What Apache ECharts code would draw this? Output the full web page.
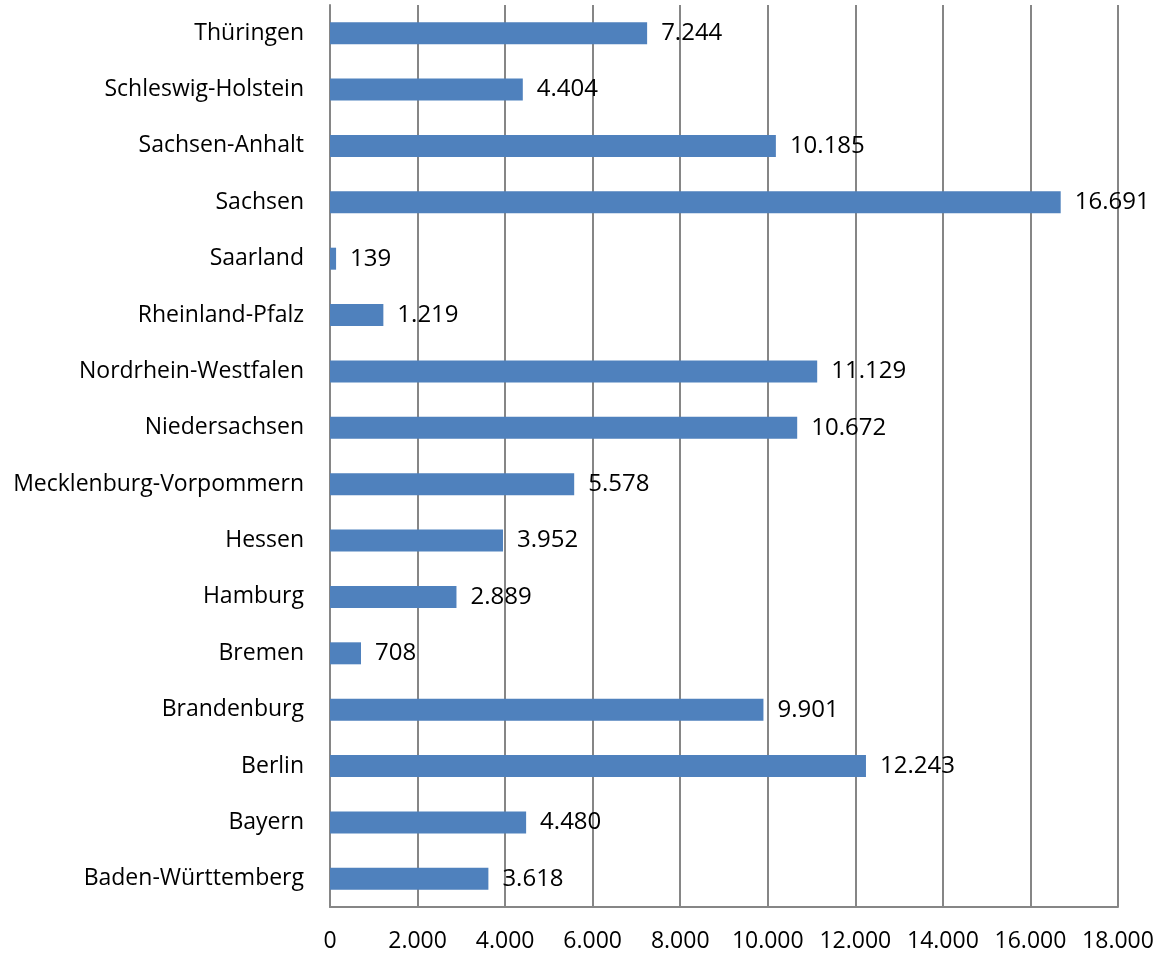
<!DOCTYPE html>
<html>
<head>
<meta charset="utf-8">
<script src="https://cdn.jsdelivr.net/npm/echarts@6/dist/echarts.min.js"></script>
<style>
  html, body { margin: 0; padding: 0; background: #fff; }
  #main { width: 1157px; height: 956px; }
</style>
</head>
<body>
<div id="main"></div>
<script>
var laender = ['Baden-Württemberg', 'Bayern', 'Berlin', 'Brandenburg', 'Bremen', 'Hamburg', 'Hessen',
    'Mecklenburg-Vorpommern', 'Niedersachsen', 'Nordrhein-Westfalen', 'Rheinland-Pfalz', 'Saarland',
    'Sachsen', 'Sachsen-Anhalt', 'Schleswig-Holstein', 'Thüringen'];
var werte = [3618, 4480, 12243, 9901, 708, 2889, 3952, 5578, 10672, 11129, 1219, 139, 16691, 10185, 4404, 7244];

function deNum(v) {
    return String(v).replace(/\B(?=(\d{3})+(?!\d))/g, '.');
}

var dom = document.getElementById('main');
var chart = echarts.init(dom);
var schrift = 'Open Sans';
var option = {
    animation: false,
    textStyle: {fontFamily: schrift, color: '#000'},
    grid: {
        left: 330,
        right: 39,
        top: 5,
        bottom: 49
    },
    xAxis: {
        type: 'value',
        min: 0,
        max: 18000,
        interval: 2000,
        axisLine: {show: true, lineStyle: {color: '#868686', width: 2}},
        axisTick: {show: false},
        splitLine: {show: true, lineStyle: {color: '#868686', width: 2}},
        axisLabel: {
            margin: 23,
            fontSize: 23,
            color: '#000',
            fontFamily: schrift,
            formatter: function (v) { return deNum(v); }
        }
    },
    yAxis: {
        type: 'category',
        data: laender,
        axisLine: {show: true, lineStyle: {color: '#868686', width: 2}},
        axisTick: {show: false},
        axisLabel: {
            margin: 26,
            fontSize: 23,
            color: '#000',
            fontFamily: schrift
        }
    },
    series: [{
        type: 'bar',
        data: werte,
        barWidth: 22,
        itemStyle: {color: '#4f81bd'},
        label: {
            show: true,
            position: 'right',
            distance: 14,
            fontSize: 24,
            color: '#000',
            fontFamily: schrift,
            formatter: function (p) { return deNum(p.value); }
        }
    }]
};
chart.setOption(option, true);
</script>
</body>
</html>
